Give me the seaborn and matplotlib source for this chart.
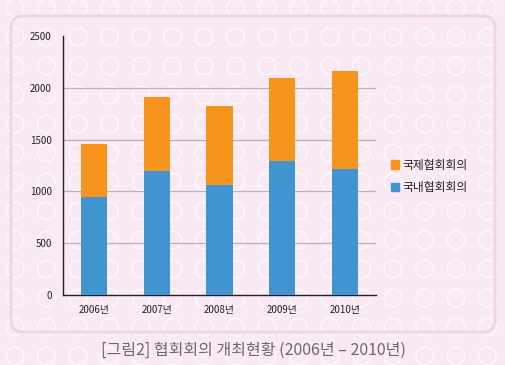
import numpy as np
import pandas as pd
import matplotlib
matplotlib.use("Agg")
import matplotlib.pyplot as plt
import seaborn as sns
from matplotlib.patches import Circle, FancyBboxPatch, Patch

# data
years = ["2006년", "2007년", "2008년", "2009년", "2010년"]
domestic = [945, 1200, 1065, 1290, 1220]      # 국내협회회의
international = [515, 710, 760, 805, 940]     # 국제협회회의
yticks = [0, 500, 1000, 1500, 2000, 2500]

df = pd.DataFrame({"year": years, "domestic": domestic, "international": international})
df["total"] = df["domestic"] + df["international"]

sns.set_style("white")
plt.rcParams["font.family"] = ["Noto Sans CJK KR", "DejaVu Sans"]

bg = "#f9e9f3"
orange = "#f7941d"
blue = "#4094d0"

W, H = 506, 365
fig = plt.figure(figsize=(W / 100, H / 100), dpi=100)
fig.patch.set_facecolor(bg)

# background layer in pixel coordinates: circle pattern + rounded frame
bgax = fig.add_axes([0, 0, 1, 1], zorder=-5)
bgax.set_xlim(0, W)
bgax.set_ylim(H, 0)
bgax.axis("off")
for cy in np.arange(8, H + 20, 29):
    for cx in np.arange(15, W + 20, 31.5):
        bgax.add_patch(Circle((cx, cy), 8.8, fill=False, edgecolor="white", lw=1.0, alpha=0.75))
bgax.add_patch(FancyBboxPatch((11, 16), 484, 316, boxstyle="round,pad=0,rounding_size=12",
                              fill=False, edgecolor="#f0d3e5", lw=2.0))

ax = fig.add_axes([63 / W, 1 - 295 / H, 313 / W, 259 / H])
ax.set_facecolor("none")

sns.barplot(data=df, x="year", y="total", color=orange, width=0.42, saturation=1,
            linewidth=0, edgecolor="none", ax=ax, zorder=3)
sns.barplot(data=df, x="year", y="domestic", color=blue, width=0.42, saturation=1,
            linewidth=0, edgecolor="none", ax=ax, zorder=3)

ax.set_xlim(-0.5, 4.5)
ax.set_ylim(0, 2500)
ax.set_yticks(yticks)
for t in yticks[1:-1]:
    ax.axhline(t, color="#b5b5b5", lw=0.9, zorder=1)
ax.set_xlabel("")
ax.set_ylabel("")
for s in ["top", "right"]:
    ax.spines[s].set_visible(False)
for s in ["left", "bottom"]:
    ax.spines[s].set_color("#222222")
    ax.spines[s].set_linewidth(1.0)

ax.tick_params(axis="y", length=0, pad=8, labelsize=7, labelcolor="#222222")
ax.tick_params(axis="x", length=0, pad=7, labelsize=7, labelcolor="#222222")
ax.set_xticks([1.5, 3.5, 4.5], minor=True)
ax.tick_params(axis="x", which="minor", length=4, width=1, color="#222222", direction="out")

handles = [Patch(color=orange, label="국제협회회의"), Patch(color=blue, label="국내협회회의")]
fig.legend(handles=handles, loc="upper left", bbox_to_anchor=(386 / W, 1 - 154 / H),
           frameon=False, fontsize=8.5, handlelength=0.7, handleheight=0.7,
           handletextpad=0.3, labelspacing=0.8, borderaxespad=0, labelcolor="#222222")

fig.text(0.5, 1 - 350 / H, "[그림2] 협회회의 개최현황 (2006년 – 2010년)", ha="center", va="center",
         fontsize=11.5, color="#6a6a6a")

fig.savefig("out.png", dpi=100, facecolor=bg)
